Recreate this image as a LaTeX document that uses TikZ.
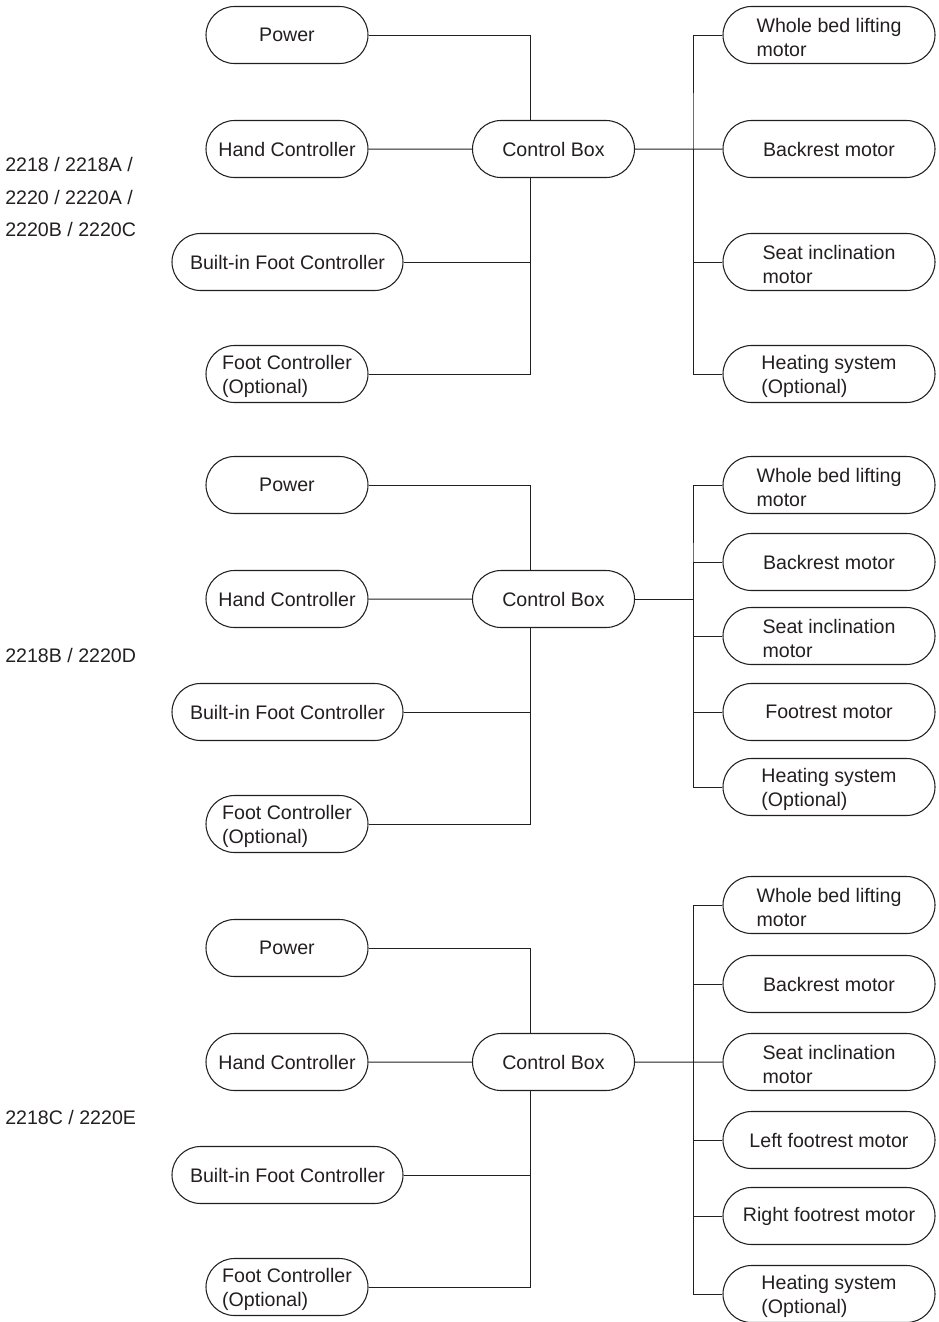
\documentclass[tikz,border=0pt]{standalone}
\usepackage{fontspec}
\setmainfont{Liberation Sans}
\usetikzlibrary{shapes.misc}
\definecolor{INK}{HTML}{231F20}
\tikzset{
	every node/.style = {font=\fontsize{14.7}{18}\selectfont, text=INK},
	pill/.style = {rounded rectangle, draw=INK, line width=0.8pt, inner sep=0pt,
	               minimum height=42.75pt, align=left},
	smallpill/.style = {pill, minimum width=121.5pt},
	widepill/.style = {pill, minimum width=173.25pt},
	motorpill/.style = {pill, minimum width=159pt},
	twoline/.style = {text height=33pt},
	grouplabel/.style = {anchor=west, inner sep=0pt, align=left,
	                     font=\fontsize{14.7}{24.4}\selectfont},
	wire/.style = {draw=INK, line width=0.75pt}
}

\begin{document}
\begin{tikzpicture}[x=0.75pt, y=-0.75pt]
		\useasboundingbox (0,0) rectangle (939,1322);
		% first group
		\node[grouplabel] (grp1) at (5,197) {2218 / 2218A /\\2220 / 2220A /\\2220B / 2220C};
		\node[smallpill] (pow1)  at (287,35)   {Power};
		\node[smallpill] (hand1) at (287,149)  {Hand Controller};
		\node[widepill]  (bif1)  at (287.5,262) {Built-in Foot Controller};
		\node[smallpill,twoline] (fc1) at (287,374) {Foot Controller\\(Optional)};
		\node[smallpill] (cb1)   at (553.5,149) {Control Box};
		\node[motorpill,twoline] (lift1) at (829,35) {Whole bed lifting\\motor};
		\node[motorpill] (back1) at (829,149)  {Backrest motor};
		\node[motorpill,twoline] (seat1) at (829,262) {Seat inclination\\motor};
		\node[motorpill,twoline] (heat1) at (829,374) {Heating system\\(Optional)};
		\coordinate (bus1) at (693,149);
		\draw[wire] (pow1.east) -| ([xshift=-17.25pt]cb1.north);
		\draw[wire] (hand1) -- (cb1);
		\draw[wire] ([xshift=-17.25pt]cb1.south) |- (bif1.east);
		\draw[wire] ([xshift=-17.25pt]cb1.south) |- (fc1.east);
		\draw[wire] (cb1) -- (back1);
		\draw[wire] (lift1.west) -| (bus1) |- (heat1.west);
		\draw[wire] (bus1) |- (seat1.west);
		% second group
		\node[grouplabel] (grp2) at (5,655) {2218B / 2220D};
		\node[smallpill] (pow2)  at (287,485)  {Power};
		\node[smallpill] (hand2) at (287,599)  {Hand Controller};
		\node[widepill]  (bif2)  at (287.5,712) {Built-in Foot Controller};
		\node[smallpill,twoline] (fc2) at (287,824) {Foot Controller\\(Optional)};
		\node[smallpill] (cb2)   at (553.5,599) {Control Box};
		\node[motorpill,twoline] (lift2) at (829,485) {Whole bed lifting\\motor};
		\node[motorpill] (back2) at (829,562)  {Backrest motor};
		\node[motorpill,twoline] (seat2) at (829,636) {Seat inclination\\motor};
		\node[motorpill] (foot2) at (829,712)  {Footrest motor};
		\node[motorpill,twoline] (heat2) at (829,787) {Heating system\\(Optional)};
		\coordinate (bus2) at (693,599);
		\draw[wire] (pow2.east) -| ([xshift=-17.25pt]cb2.north);
		\draw[wire] (hand2) -- (cb2);
		\draw[wire] ([xshift=-17.25pt]cb2.south) |- (bif2.east);
		\draw[wire] ([xshift=-17.25pt]cb2.south) |- (fc2.east);
		\draw[wire] (cb2.east) -- (bus2);
		\draw[wire] (lift2.west) -| (bus2) |- (heat2.west);
		\draw[wire] (bus2) |- (back2.west);
		\draw[wire] (bus2) |- (seat2.west);
		\draw[wire] (bus2) |- (foot2.west);
		% third group
		\node[grouplabel] (grp3) at (5,1117) {2218C / 2220E};
		\node[smallpill] (pow3)  at (287,948)  {Power};
		\node[smallpill] (hand3) at (287,1062) {Hand Controller};
		\node[widepill]  (bif3)  at (287.5,1175) {Built-in Foot Controller};
		\node[smallpill,twoline] (fc3) at (287,1287) {Foot Controller\\(Optional)};
		\node[smallpill] (cb3)   at (553.5,1062) {Control Box};
		\node[motorpill,twoline] (lift3) at (829,905) {Whole bed lifting\\motor};
		\node[motorpill] (back3) at (829,984)  {Backrest motor};
		\node[motorpill,twoline] (seat3) at (829,1062) {Seat inclination\\motor};
		\node[motorpill] (lfoot3) at (829,1140) {Left footrest motor};
		\node[motorpill] (rfoot3) at (829,1216) {Right footrest motor};
		\node[motorpill,twoline] (heat3) at (829,1294) {Heating system\\(Optional)};
		\coordinate (bus3) at (693,1062);
		\draw[wire] (pow3.east) -| ([xshift=-17.25pt]cb3.north);
		\draw[wire] (hand3) -- (cb3);
		\draw[wire] ([xshift=-17.25pt]cb3.south) |- (bif3.east);
		\draw[wire] ([xshift=-17.25pt]cb3.south) |- (fc3.east);
		\draw[wire] (cb3) -- (seat3);
		\draw[wire] (lift3.west) -| (bus3) |- (heat3.west);
		\draw[wire] (bus3) |- (back3.west);
		\draw[wire] (bus3) |- (lfoot3.west);
		\draw[wire] (bus3) |- (rfoot3.west);
\end{tikzpicture}
\end{document}
